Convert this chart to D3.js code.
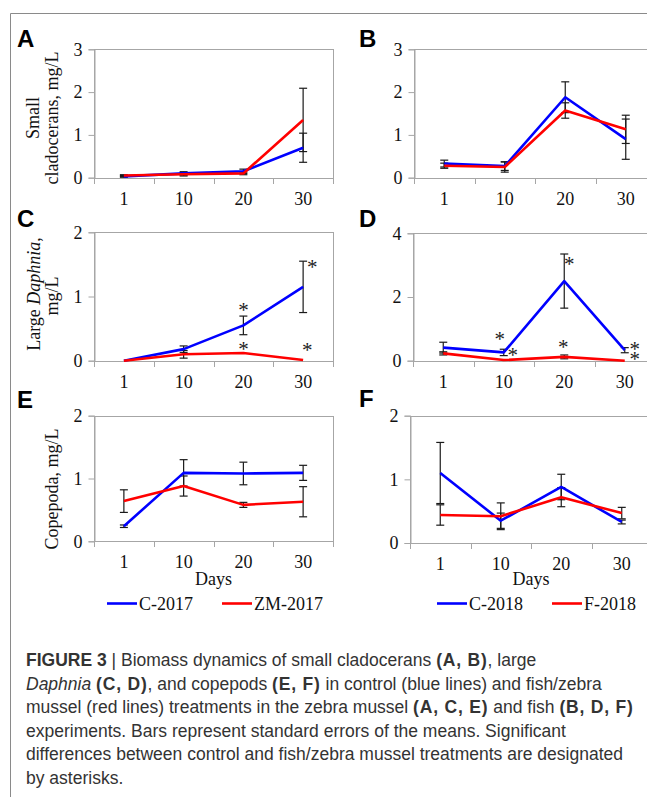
<!DOCTYPE html>
<html><head><meta charset="utf-8">
<script src="https://cdn.jsdelivr.net/npm/d3@7"></script>
<style>body{margin:0;background:#fff}svg{display:block}</style>
</head><body>
<svg id="chart" width="647" height="797"></svg>
<script>
// ---------- data ----------
const days = ["1", "10", "20", "30"];

const aControl = [0.03, 0.10, 0.15, 0.70];
const aControlErr = [0.02, 0.04, 0.05, 0.34];
const aZebra = [0.05, 0.08, 0.10, 1.35];
const aZebraErr = [0.02, 0.04, 0.03, 0.74];

const bControl = [0.33, 0.27, 1.88, 0.90];
const bControlErr = [0.08, 0.10, 0.36, 0.47];
const bFish = [0.28, 0.25, 1.57, 1.13];
const bFishErr = [0.06, 0.12, 0.18, 0.33];

const cControl = [0.00, 0.18, 0.55, 1.15];
const cControlErr = [0.00, 0.05, 0.145, 0.40];
const cZebra = [0.00, 0.10, 0.12, 0.01];
const cZebraErr = [0.00, 0.06, 0.00, 0.00];

const dControl = [0.41, 0.26, 2.50, 0.33];
const dControlErr = [0.17, 0.10, 0.85, 0.08];
const dFish = [0.23, 0.02, 0.12, 0.00];
const dFishErr = [0.05, 0.00, 0.06, 0.00];

const eControl = [0.24, 1.09, 1.08, 1.09];
const eControlErr = [0.02, 0.21, 0.18, 0.12];
const eZebra = [0.64, 0.88, 0.58, 0.63];
const eZebraErr = [0.18, 0.16, 0.04, 0.24];

const fControl = [1.10, 0.35, 0.88, 0.33];
const fControlErr = [0.48, 0.12, 0.20, 0.03];
const fFish = [0.44, 0.42, 0.72, 0.47];
const fFishErr = [0.16, 0.21, 0.15, 0.09];

// asterisks: [day, value level]
const cStars = [["20", 0.82], ["20", 0.21], ["30", 1.49], ["30", 0.20]];
const dStars = [["10", 0.74], ["10", 0.24], ["20", 3.10], ["20", 0.49], ["30", 0.44], ["30", 0.11]];

const yTicksA = [0, 1, 2, 3];
const yTicksC = [0, 1, 2];
const yTicksD = [0, 2, 4];
const yTicksE = [0, 1, 2];

const legendLeft = ["C-2017", "ZM-2017"];
const legendRight = ["C-2018", "F-2018"];

// ---------- layout ----------
const SERIF = "'Liberation Serif','Times New Roman',serif";
const SANS = "'Liberation Sans',Arial,sans-serif";
const BLUE = "#0000ff", RED = "#ff0000";

const panels = [
  {letter: "A", lx: 17, ly: 47, ctrl: aControl, ctrlErr: aControlErr, trt: aZebra, trtErr: aZebraErr,
   yMax: 3, ticks: yTicksA, x0: 94, x1: 333, top: 49.3, bottom: 177.7},
  {letter: "B", lx: 359, ly: 47, ctrl: bControl, ctrlErr: bControlErr, trt: bFish, trtErr: bFishErr,
   yMax: 3, ticks: yTicksA, x0: 414, x1: 656, top: 49.3, bottom: 177.7},
  {letter: "C", lx: 17, ly: 227, ctrl: cControl, ctrlErr: cControlErr, trt: cZebra, trtErr: cZebraErr,
   yMax: 2, ticks: yTicksC, x0: 94, x1: 333, top: 232.3, bottom: 360.7,
   stars: cStars, starDx: [0, 0, 9, 4]},
  {letter: "D", lx: 359, ly: 227, ctrl: dControl, ctrlErr: dControlErr, trt: dFish, trtErr: dFishErr,
   yMax: 4, ticks: yTicksD, x0: 413, x1: 655, top: 233.3, bottom: 360.7,
   stars: dStars, starDx: [-4, 9, 5, -1, 10, 10]},
  {letter: "E", lx: 17, ly: 408, ctrl: eControl, ctrlErr: eControlErr, trt: eZebra, trtErr: eZebraErr,
   yMax: 2, ticks: yTicksE, x0: 94, x1: 333, top: 415.7, bottom: 541.3, days: true},
  {letter: "F", lx: 359, ly: 407, ctrl: fControl, ctrlErr: fControlErr, trt: fFish, trtErr: fFishErr,
   yMax: 2, ticks: yTicksE, x0: 410, x1: 652, top: 415.7, bottom: 543, days: true}
];

const svg = d3.select("#chart");

// outer frame of the figure
svg.append("path").attr("d", "M10.5,797 V13.5 H647")
  .attr("fill", "none").attr("stroke", "#8a8a8a").attr("stroke-width", 1);

panels.forEach(p => {
  const g = svg.append("g");
  const x = d3.scaleBand().domain(days).range([p.x0, p.x1]);
  const y = d3.scaleLinear().domain([0, p.yMax]).range([p.bottom, p.top]);
  const cx = d => x(d) + x.bandwidth() / 2;

  // plot box
  g.append("rect").attr("x", p.x0 + 0.5).attr("y", Math.round(p.top) + 0.5)
    .attr("width", p.x1 - p.x0).attr("height", Math.round(p.bottom) - Math.round(p.top))
    .attr("fill", "none").attr("stroke", "#a6a6a6").attr("stroke-width", 1);

  // y axis
  const ya = d3.axisLeft(y).tickValues(p.ticks).tickSize(6).tickPadding(6).tickFormat(d3.format("d"));
  const yg = g.append("g").attr("transform", `translate(${p.x0 + 0.5},0)`).call(ya);
  yg.select(".domain").attr("stroke", "#a6a6a6");
  yg.selectAll(".tick line").attr("stroke", "#a6a6a6");
  yg.selectAll(".tick text").attr("font-family", SERIF).attr("font-size", 18).attr("fill", "#111");

  // x axis: labels centered in bands, ticks on band boundaries
  const xa = d3.axisBottom(x).tickSize(0).tickPadding(14);
  const xg = g.append("g").attr("transform", `translate(0,${Math.round(p.bottom) + 0.5})`).call(xa);
  xg.select(".domain").remove();
  xg.selectAll(".tick text").attr("font-family", SERIF).attr("font-size", 18).attr("fill", "#111");
  const bounds = days.map(d => x(d)).concat([p.x1]);
  g.selectAll("line.xt").data(bounds).join("line").attr("class", "xt")
    .attr("x1", d => Math.round(d) + 0.5).attr("x2", d => Math.round(d) + 0.5)
    .attr("y1", Math.round(p.bottom)).attr("y2", Math.round(p.bottom) + 6)
    .attr("stroke", "#a6a6a6");

  // error bars
  const series = [
    {vals: p.ctrl, err: p.ctrlErr, color: BLUE},
    {vals: p.trt, err: p.trtErr, color: RED}
  ];
  series.forEach(s => {
    const eb = g.append("g").attr("stroke", "#1a1a1a").attr("stroke-width", 1.2);
    days.forEach((d, i) => {
      if (s.err[i] <= 0) return;
      const xc = cx(d), yt = y(s.vals[i] + s.err[i]), yb = y(Math.max(0, s.vals[i] - s.err[i]));
      eb.append("line").attr("x1", xc).attr("x2", xc).attr("y1", yt).attr("y2", yb);
      eb.append("line").attr("x1", xc - 4).attr("x2", xc + 4).attr("y1", yt).attr("y2", yt);
      eb.append("line").attr("x1", xc - 4).attr("x2", xc + 4).attr("y1", yb).attr("y2", yb);
    });
  });

  // lines
  const line = d3.line().x((v, i) => cx(days[i])).y(v => y(v));
  series.forEach(s => {
    g.append("path").datum(s.vals).attr("d", line)
      .attr("fill", "none").attr("stroke", s.color).attr("stroke-width", 2.6)
      .attr("stroke-linejoin", "round");
  });

  // asterisks (stars at the same day and offset that nearly touch share one text element)
  if (p.stars) {
    const groups = [];
    p.stars.forEach((st, i) => {
      const px = cx(st[0]) + p.starDx[i], py = y(st[1]) + 9;
      const grp = groups.find(gr => gr.x === px && Math.abs(gr.ys[gr.ys.length - 1] - py) < 16);
      if (grp) grp.ys.push(py); else groups.push({x: px, ys: [py]});
    });
    groups.forEach(gr => {
      const t = g.append("text").attr("text-anchor", "middle").attr("font-family", SERIF)
        .attr("font-size", 21).attr("fill", "#222");
      gr.ys.forEach(py => t.append("tspan").attr("x", gr.x).attr("y", py).text("*"));
    });
  }

  // panel letter
  svg.append("text").attr("x", p.lx).attr("y", p.ly).attr("font-family", SANS)
    .attr("font-weight", "bold").attr("font-size", 24).attr("fill", "#000").text(p.letter);

  if (p.days) {
    svg.append("text").attr("x", (p.x0 + p.x1) / 2).attr("y", 585)
      .attr("text-anchor", "middle").attr("font-family", SERIF).attr("font-size", 18)
      .attr("fill", "#111").text("Days");
  }
});

// y axis titles
function vtext(xb, yc, parts) {
  const t = svg.append("text").attr("transform", `translate(${xb},${yc}) rotate(-90)`)
    .attr("text-anchor", "middle").attr("font-family", SERIF).attr("font-size", 18).attr("fill", "#111");
  parts.forEach(pt => t.append("tspan").attr("font-style", pt[1] ? "italic" : "normal").text(pt[0]));
}
vtext(39, 118, [["Small", false]]);
vtext(58, 118, [["cladocerans, mg/L", false]]);
vtext(40, 294, [["Large ", false], ["Daphnia", true], [",", false]]);
vtext(58, 296, [["mg/L", false]]);
vtext(58, 489, [["Copepoda, mg/L", false]]);

// legends
function legend(items, xs) {
  items.forEach((name, i) => {
    const color = i === 0 ? BLUE : RED;
    svg.append("line").attr("x1", xs[i]).attr("x2", xs[i] + 30).attr("y1", 603.5).attr("y2", 603.5)
      .attr("stroke", color).attr("stroke-width", 2.6);
    svg.append("text").attr("x", xs[i] + 32).attr("y", 609.5).attr("font-family", SERIF)
      .attr("font-size", 18).attr("fill", "#111").text(name);
  });
}
legend(legendLeft, [107, 222]);
legend(legendRight, [437, 552]);

// caption
const captionLines = [
  [["FIGURE 3", "b"], [" | ", ""], ["Biomass dynamics of small cladocerans ", ""], ["(A, B)", "p"], [", large", ""]],
  [["Daphnia", "i"], [" ", ""], ["(C, D)", "p"], [", and copepods ", ""], ["(E, F)", "p"], [" in control (blue lines) and fish/zebra", ""]],
  [["mussel (red lines) treatments in the zebra mussel ", ""], ["(A, C, E)", "p"], [" and fish ", ""], ["(B, D, F)", "p"]],
  [["experiments. Bars represent standard errors of the means. Significant", ""]],
  [["differences between control and fish/zebra mussel treatments are designated", ""]],
  [["by asterisks.", ""]]
];
captionLines.forEach((ln, i) => {
  const t = svg.append("text").attr("x", 26).attr("y", 666 + i * 23.6)
    .attr("font-family", SANS).attr("font-size", 17.5).attr("fill", "#333");
  ln.forEach(pt => {
    const ts = t.append("tspan").text(pt[0]);
    if (pt[1] === "b") ts.attr("font-weight", "bold");
    if (pt[1] === "p") ts.attr("font-weight", "bold").attr("letter-spacing", 0.8);
    if (pt[1] === "i") ts.attr("font-style", "italic");
  });
});
</script>
</body></html>
